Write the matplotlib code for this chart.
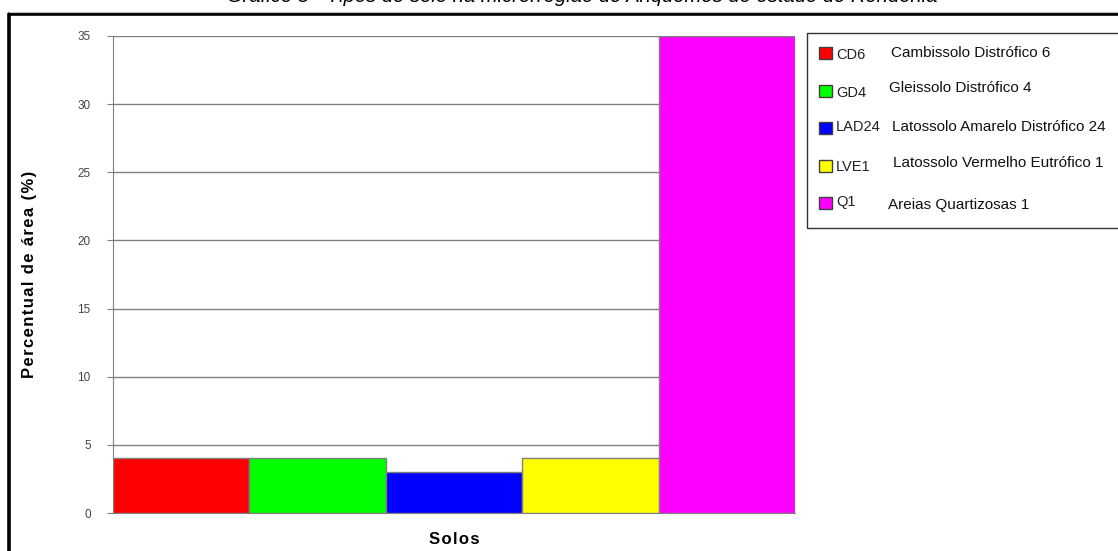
import matplotlib.pyplot as plt
from matplotlib.patches import Rectangle

# Soil classes and share of area (%)
codes = ['CD6', 'GD4', 'LAD24', 'LVE1', 'Q1']
names = ['Cambissolo Distrófico 6', 'Gleissolo Distrófico 4',
         'Latossolo Amarelo Distrófico 24', 'Latossolo Vermelho Eutrófico 1',
         'Areias Quartizosas 1']
values = [4, 4, 3, 4, 35]
colors = ['#ff0000', '#00ff00', '#0000ff', '#ffff00', '#ff00ff']
yticks = [0, 5, 10, 15, 20, 25, 30, 35]

plt.rcParams['font.family'] = ['Liberation Sans', 'DejaVu Sans']

W, H = 1118, 551
fig = plt.figure(figsize=(W / 100, H / 100), dpi=100)

ax = fig.add_axes([113 / W, 1 - 513 / H, (795 - 113) / W, (513 - 36) / H])
x = range(len(values))
ax.bar(x, values, width=1.0, color=colors, edgecolor='#7f7f7f', linewidth=1, zorder=3)
ax.set_xlim(-0.5, len(values) - 0.5)
ax.set_ylim(0, 35)
ax.set_yticks(yticks)
ax.set_yticklabels([str(t) for t in yticks], fontsize=8.5, color='#444444')
ax.yaxis.grid(True, color='#808080', linewidth=1, zorder=0)
ax.set_xticks([])
for s in ['top', 'right']:
    ax.spines[s].set_visible(False)
for s in ['left', 'bottom']:
    ax.spines[s].set_color('#808080')
ax.tick_params(axis='y', length=4, color='#808080', pad=12)

# letter-spaced bold axis titles
ylab = '\u200a'.join('Percentual de área (%)')
ax.set_ylabel(ylab, fontsize=12, fontweight='bold')
ax.yaxis.set_label_coords(-0.112, 0.5)
ax.set_xlabel('\u200a'.join('Solos'), fontsize=12, fontweight='bold', va='center')
ax.xaxis.set_label_coords(0.500, -0.055)

# overlay in pixel coordinates for frame, title and legend
ov = fig.add_axes([0, 0, 1, 1], facecolor='none')
ov.set_xlim(0, W)
ov.set_ylim(H, 0)
ov.axis('off')

ov.plot([9, 9, W + 5], [H + 5, 14, 14], color='black', linewidth=2.6, solid_capstyle='butt')
ov.plot([9, W + 5], [12, 12], color='#c0c0c0', linewidth=0.8)

ov.text(582, 1.5, 'Gráfico 5 - Tipos de solo na microrregião de Ariquemes do estado de Rondônia',
        fontsize=14.5, style='italic', ha='center', va='baseline')

ov.add_patch(Rectangle((807, 33), W, 195, fill=False, edgecolor='#333333', linewidth=1))
box_y = [52.5, 91, 127.5, 166, 202.5]
code_y = [55, 93, 127, 167, 202]
name_y = [53, 88, 127, 163, 205]
name_x = [891, 889, 892, 893, 888]
for i in range(len(codes)):
    ov.add_patch(Rectangle((819, box_y[i] - 6), 13, 12, facecolor=colors[i],
                           edgecolor='#404040', linewidth=1))
    ov.text(836, code_y[i], codes[i], fontsize=10.5, va='center', ha='left',
            color='#222222')
    ov.text(name_x[i], name_y[i], names[i], fontsize=11, va='center', ha='left',
            color='#111111')

fig.savefig('out.png', dpi=100)
